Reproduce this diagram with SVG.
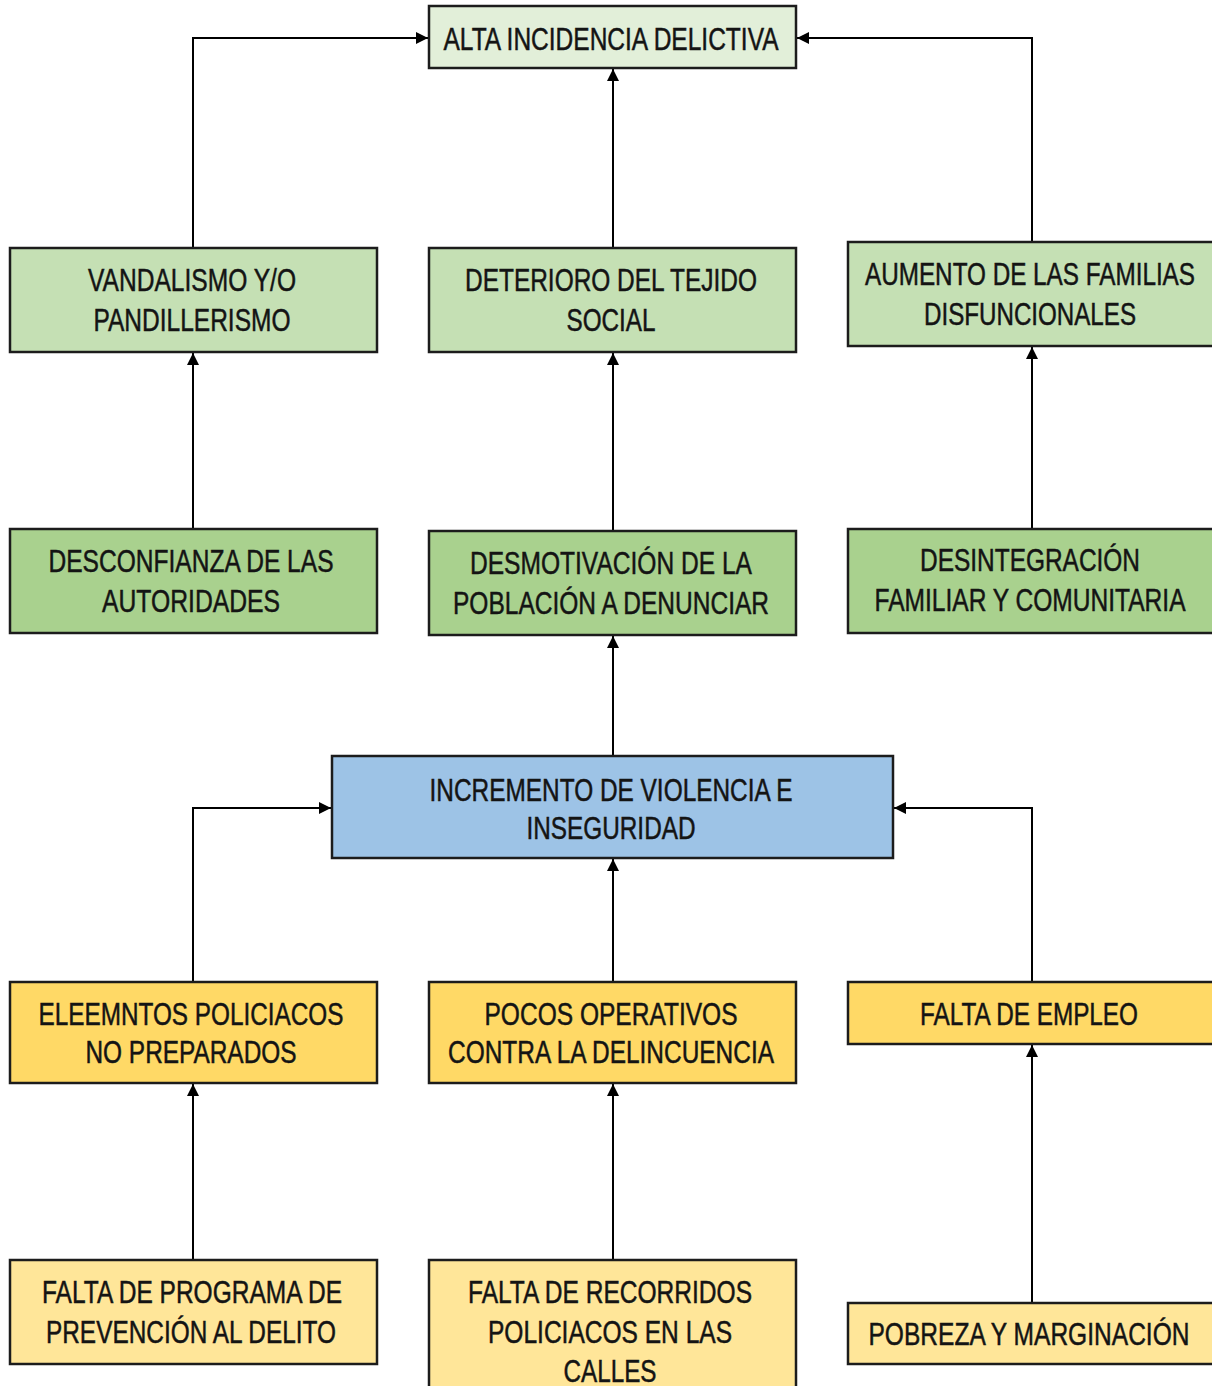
<svg xmlns="http://www.w3.org/2000/svg" width="1212" height="1386" viewBox="0 0 1212 1386">
<defs>
<style>
.box{stroke:#1c1c1c;stroke-width:2.5}
.g1{fill:#e2efd9}
.g2{fill:#c5e0b4}
.g3{fill:#a9d18e}
.bl{fill:#9dc3e6}
.y1{fill:#ffd966}
.y2{fill:#ffe699}
text{font-family:"Liberation Sans Narrow","Liberation Sans",Arial,sans-serif;font-size:32px;fill:#141414;stroke:#141414;stroke-width:0.5;text-anchor:middle}
.c{fill:none;stroke:#000;stroke-width:2;marker-end:url(#ah)}
</style>
<marker id="ah" markerUnits="userSpaceOnUse" markerWidth="12" markerHeight="12" viewBox="0 0 12 12" refX="12" refY="6" orient="auto">
<path d="M0,0 L12,6 L0,12 z" fill="#000"/>
</marker>
</defs>
<rect width="1212" height="1386" fill="#fff"/>
<g id="connectors">
<path class="c" d="M193,248 V38 H428"/>
<path class="c" d="M613,248 V69"/>
<path class="c" d="M1032,242 V38 H797"/>
<path class="c" d="M193,529 V353"/>
<path class="c" d="M613,531 V353"/>
<path class="c" d="M1032,529 V347"/>
<path class="c" d="M613,756 V636"/>
<path class="c" d="M193,982 V808 H331"/>
<path class="c" d="M613,982 V859"/>
<path class="c" d="M1032,982 V808 H894"/>
<path class="c" d="M193,1260 V1084"/>
<path class="c" d="M613,1260 V1084"/>
<path class="c" d="M1032,1303 V1045"/>
</g>
<g id="n-alta">
<rect class="box g1" x="429" y="6" width="367" height="62"/>
<text x="611" y="50" textLength="335" lengthAdjust="spacingAndGlyphs">ALTA INCIDENCIA DELICTIVA</text>
</g>
<g id="n-vandalismo">
<rect class="box g2" x="10" y="248" width="367" height="104"/>
<text x="192" y="291" textLength="208" lengthAdjust="spacingAndGlyphs">VANDALISMO Y/O</text>
<text x="192" y="331" textLength="197" lengthAdjust="spacingAndGlyphs">PANDILLERISMO</text>
</g>
<g id="n-deterioro">
<rect class="box g2" x="429" y="248" width="367" height="104"/>
<text x="611" y="291" textLength="292" lengthAdjust="spacingAndGlyphs">DETERIORO DEL TEJIDO</text>
<text x="611" y="331" textLength="89" lengthAdjust="spacingAndGlyphs">SOCIAL</text>
</g>
<g id="n-aumento">
<rect class="box g2" x="848" y="242" width="372" height="104"/>
<text x="1030" y="285" textLength="330" lengthAdjust="spacingAndGlyphs">AUMENTO DE LAS FAMILIAS</text>
<text x="1030" y="325" textLength="212" lengthAdjust="spacingAndGlyphs">DISFUNCIONALES</text>
</g>
<g id="n-desconfianza">
<rect class="box g3" x="10" y="529" width="367" height="104"/>
<text x="191" y="572" textLength="285" lengthAdjust="spacingAndGlyphs">DESCONFIANZA DE LAS</text>
<text x="191" y="612" textLength="178" lengthAdjust="spacingAndGlyphs">AUTORIDADES</text>
</g>
<g id="n-desmotivacion">
<rect class="box g3" x="429" y="531" width="367" height="104"/>
<text x="611" y="574" textLength="282" lengthAdjust="spacingAndGlyphs">DESMOTIVACIÓN DE LA</text>
<text x="611" y="614" textLength="316" lengthAdjust="spacingAndGlyphs">POBLACIÓN A DENUNCIAR</text>
</g>
<g id="n-desintegracion">
<rect class="box g3" x="848" y="529" width="372" height="104"/>
<text x="1030" y="571" textLength="220" lengthAdjust="spacingAndGlyphs">DESINTEGRACIÓN</text>
<text x="1030" y="611" textLength="311" lengthAdjust="spacingAndGlyphs">FAMILIAR Y COMUNITARIA</text>
</g>
<g id="n-incremento">
<rect class="box bl" x="332" y="756" width="561" height="102"/>
<text x="611" y="801" textLength="363" lengthAdjust="spacingAndGlyphs">INCREMENTO DE VIOLENCIA E</text>
<text x="611" y="839" textLength="169" lengthAdjust="spacingAndGlyphs">INSEGURIDAD</text>
</g>
<g id="n-elementos">
<rect class="box y1" x="10" y="982" width="367" height="101"/>
<text x="191" y="1025" textLength="305" lengthAdjust="spacingAndGlyphs">ELEEMNTOS POLICIACOS</text>
<text x="191" y="1063" textLength="211" lengthAdjust="spacingAndGlyphs">NO PREPARADOS</text>
</g>
<g id="n-pocos">
<rect class="box y1" x="429" y="982" width="367" height="101"/>
<text x="611" y="1025" textLength="253" lengthAdjust="spacingAndGlyphs">POCOS OPERATIVOS</text>
<text x="611" y="1063" textLength="326" lengthAdjust="spacingAndGlyphs">CONTRA LA DELINCUENCIA</text>
</g>
<g id="n-empleo">
<rect class="box y1" x="848" y="982" width="372" height="62"/>
<text x="1029" y="1025" textLength="218" lengthAdjust="spacingAndGlyphs">FALTA DE EMPLEO</text>
</g>
<g id="n-programa">
<rect class="box y2" x="10" y="1260" width="367" height="104"/>
<text x="192" y="1303" textLength="300" lengthAdjust="spacingAndGlyphs">FALTA DE PROGRAMA DE</text>
<text x="191" y="1343" textLength="290" lengthAdjust="spacingAndGlyphs">PREVENCIÓN AL DELITO</text>
</g>
<g id="n-recorridos">
<rect class="box y2" x="429" y="1260" width="367" height="140"/>
<text x="610" y="1303" textLength="284" lengthAdjust="spacingAndGlyphs">FALTA DE RECORRIDOS</text>
<text x="610" y="1343" textLength="244" lengthAdjust="spacingAndGlyphs">POLICIACOS EN LAS</text>
<text x="610" y="1382" textLength="93" lengthAdjust="spacingAndGlyphs">CALLES</text>
</g>
<g id="n-pobreza">
<rect class="box y2" x="848" y="1303" width="372" height="61"/>
<text x="1029" y="1345" textLength="321" lengthAdjust="spacingAndGlyphs">POBREZA Y MARGINACIÓN</text>
</g>
</svg>
